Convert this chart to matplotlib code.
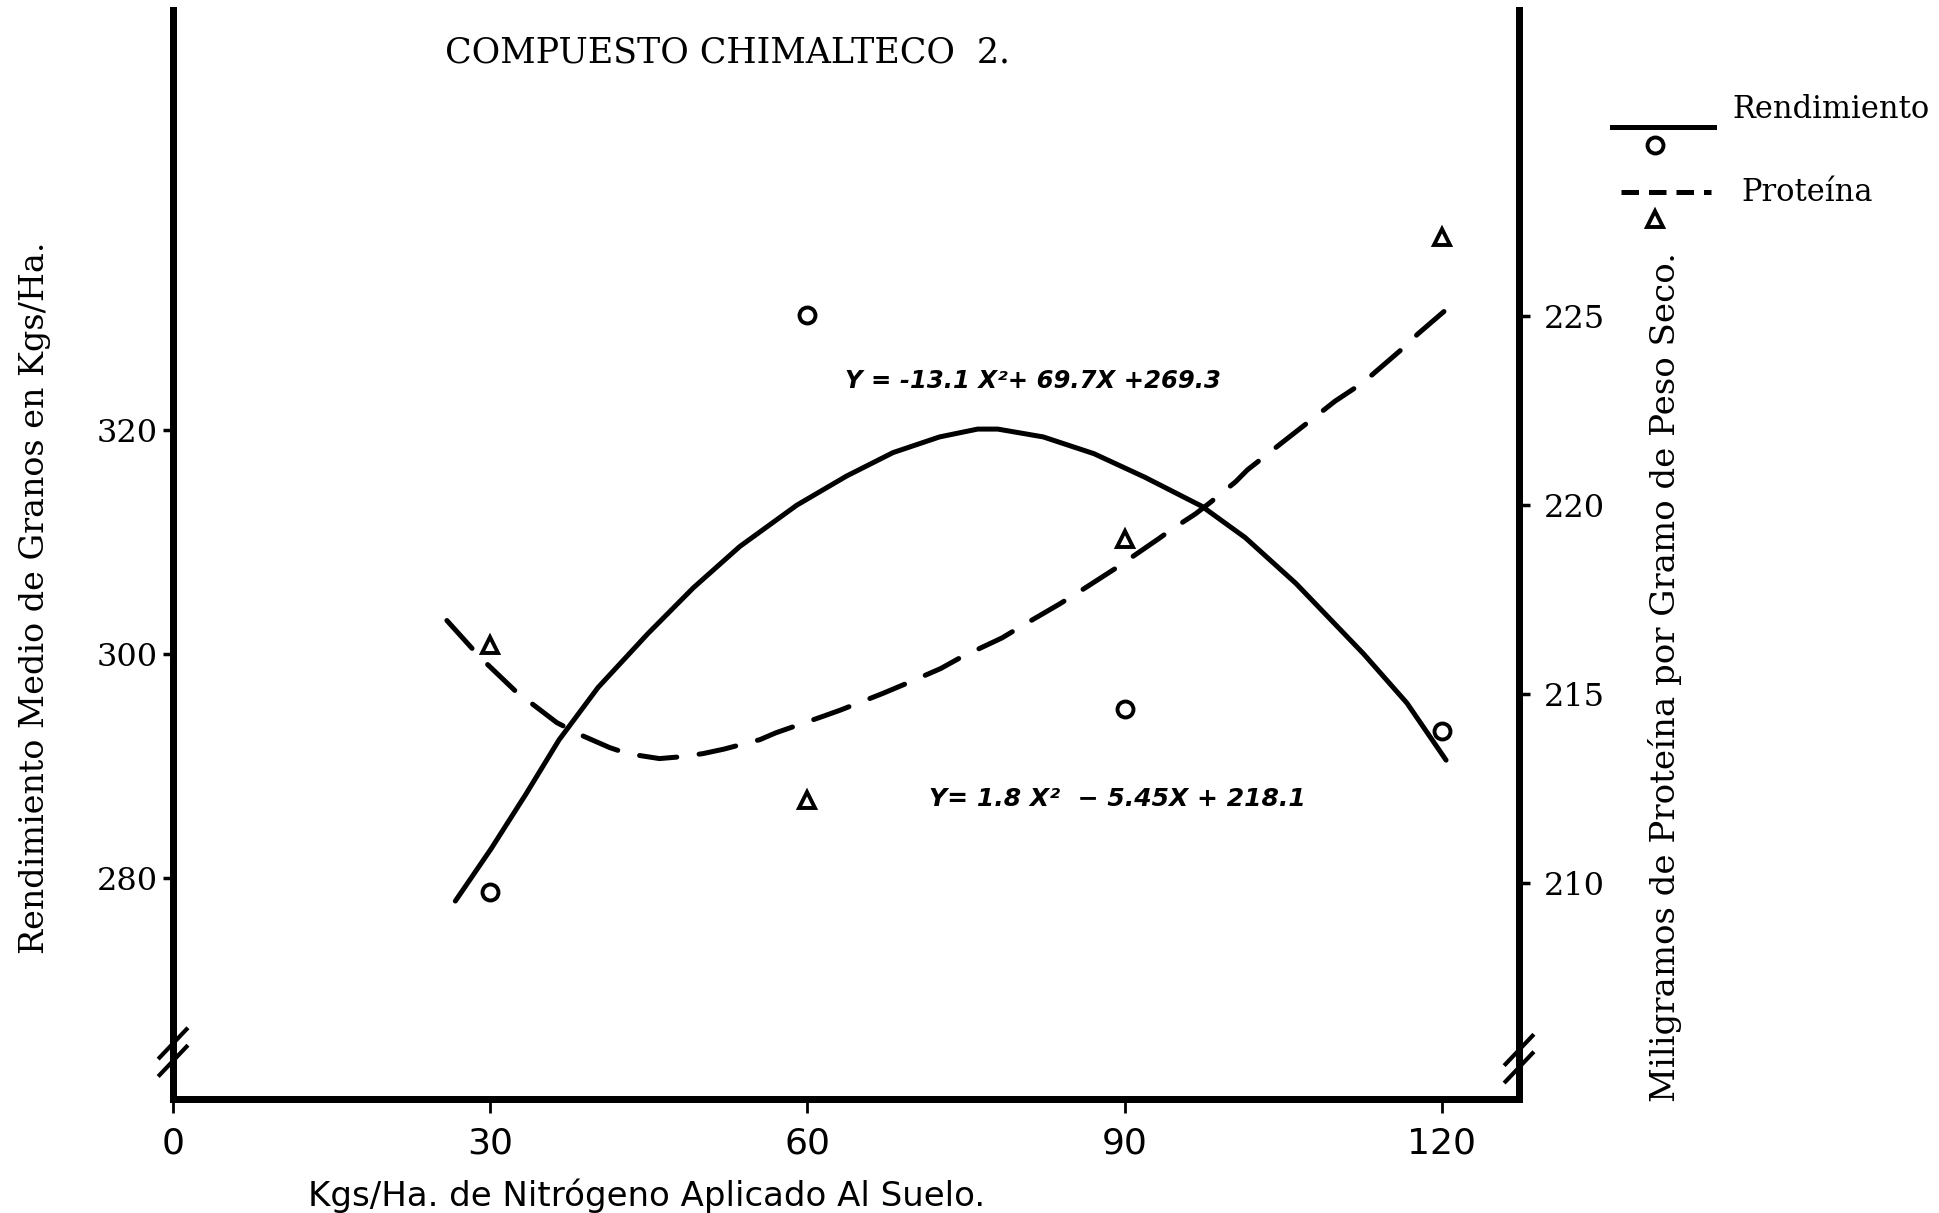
import matplotlib

matplotlib.use("Agg")

import matplotlib.pyplot as plt
from matplotlib.lines import Line2D

# nitrogen applied (kg/ha) and observed means
nitrogen = [30, 60, 90, 120]
rend_obs = [278.7, 330.3, 295.1, 293.1]
prot_obs = [216.3, 212.2, 219.1, 227.1]

# fitted curves
rend_fit_x = [26.7, 30.1, 33.4, 36.5, 40.2, 44.9, 49.2, 53.6, 59.0, 63.7, 68.1, 72.5,
              76.1, 78.0, 82.3, 87.1, 91.9, 97.3, 101.4, 106.2, 112.6, 116.7, 120.4]
rend_fit_y = [277.9, 282.6, 287.5, 292.3, 297.0, 301.8, 305.9, 309.6, 313.3, 315.9, 318.0, 319.4,
              320.1, 320.1, 319.4, 317.9, 315.8, 313.2, 310.4, 306.3, 300.0, 295.6, 290.5]
prot_fit_x = [25.9, 29.1, 32.4, 36.3, 38.6, 41.3, 43.0, 46.0, 47.7, 50.1, 52.1, 55.5, 57.0,
              61.5, 63.1, 67.1, 69.4, 72.6, 74.6, 78.4, 80.3, 83.8, 85.7, 89.2, 90.6,
              93.2, 94.4, 96.7, 98.0, 100.5, 101.6, 105.1, 108.4, 109.9, 112.6, 113.5,
              116.7, 117.7, 120.2]
prot_fit_y = [216.95, 215.96, 215.08, 214.25, 213.92, 213.59, 213.43, 213.30, 213.34, 213.43,
              213.55, 213.80, 213.98, 214.42, 214.58, 215.02, 215.29, 215.68, 215.99, 216.49,
              216.81, 217.38, 217.71, 218.34, 218.61, 219.11, 219.35, 219.77, 220.05, 220.62,
              220.93, 221.70, 222.42, 222.75, 223.25, 223.47, 224.24, 224.52, 225.12]

x_ticks = [0, 30, 60, 90, 120]
left_ticks = [280, 300, 320]
right_ticks = [210, 215, 220, 225]

title = "COMPUESTO CHIMALTECO  2."
eq_rend = "Y = -13.1 X²+ 69.7X +269.3"
eq_prot = "Y= 1.8 X²  − 5.45X + 218.1"

SERIF = ["DejaVu Serif"]
NARROW = ["Liberation Sans Narrow", "DejaVu Sans"]

fig = plt.figure(figsize=(19.4, 12.13), dpi=100)
ax = fig.add_axes([0.0892, 0.094, 0.6938, 0.898])
ax2 = ax.twinx()

ax.set_xlim(0, 127.3)
ax.set_ylim(260.2, 357.6)
ax2.set_ylim(204.3, 233.1)

ax.plot(rend_fit_x, rend_fit_y, color="black", linewidth=3.6, solid_capstyle="round",
        solid_joinstyle="round")
ax.plot(nitrogen, rend_obs, linestyle="none", marker="o", markersize=11.5,
        markerfacecolor="white", markeredgecolor="black", markeredgewidth=2.8)
ax2.plot(prot_fit_x, prot_fit_y, color="black", linewidth=3.6, dashes=(7.5, 4.5),
         dash_capstyle="round", dash_joinstyle="round")
ax2.plot(nitrogen, prot_obs, linestyle="none", marker="^", markersize=11,
         markerfacecolor="white", markeredgecolor="black", markeredgewidth=2.8)

for a in (ax, ax2):
    a.spines["top"].set_visible(False)
    for side in ("left", "right", "bottom"):
        a.spines[side].set_linewidth(5)
        a.spines[side].set_color("black")

ax.set_xticks(x_ticks)
ax.set_xticklabels([str(v) for v in x_ticks], fontfamily=NARROW, fontsize=26)
ax.tick_params(axis="x", direction="out", length=10, width=2, pad=10)
ax.set_yticks(left_ticks)
ax.set_yticklabels([str(v) for v in left_ticks], fontfamily=SERIF, fontsize=23)
ax.tick_params(axis="y", direction="out", length=7, width=2.5, pad=4)
ax2.set_yticks(right_ticks)
ax2.set_yticklabels([str(v) for v in right_ticks], fontfamily=SERIF, fontsize=23)
ax2.tick_params(axis="y", direction="out", length=8, width=2.5, pad=10)

# axis break marks
for xa, ya in ((0.0, 0.043), (1.0, 0.037)):
    for off in (-0.008, 0.008):
        ax.plot([xa - 0.010, xa + 0.010], [ya + off - 0.013, ya + off + 0.013],
                transform=ax.transAxes, color="black", linewidth=3, clip_on=False)

fig.text(0.2294, 0.957, title, fontfamily=SERIF, fontsize=25, ha="left", va="center")
fig.text(0.4356, 0.686, eq_rend, fontfamily=["DejaVu Sans"], fontsize=17.5,
         fontweight="bold", fontstyle="italic", ha="left", va="center")
fig.text(0.479, 0.341, eq_prot, fontfamily=["DejaVu Sans"], fontsize=18,
         fontweight="bold", fontstyle="italic", ha="left", va="center")
fig.text(0.159, 0.014, "Kgs/Ha. de Nitrógeno Aplicado Al Suelo.", fontfamily=NARROW,
         fontsize=24.5, ha="left", va="center")
fig.text(0.018, 0.507, "Rendimiento Medio de Granos en Kgs/Ha.", fontfamily=SERIF,
         fontsize=24, rotation=90, ha="center", va="center")
fig.text(0.858, 0.442, "Miligramos de Proteína por Gramo de Peso Seco.", fontfamily=SERIF,
         fontsize=24.5, rotation=90, ha="center", va="center")

# hand-drawn key to the right of the plot
fig.add_artist(Line2D([0.831, 0.8835], [0.8953, 0.8953], transform=fig.transFigure,
                      color="black", linewidth=3.6))
fig.add_artist(Line2D([0.853], [0.8805], transform=fig.transFigure, linestyle="none",
                      marker="o", markersize=11.5, markerfacecolor="white",
                      markeredgecolor="black", markeredgewidth=2.8))
fig.add_artist(Line2D([0.8356, 0.882], [0.8417, 0.8417], transform=fig.transFigure,
                      color="black", linewidth=3.6, dashes=(3.5, 2.0)))
fig.add_artist(Line2D([0.853], [0.8195], transform=fig.transFigure, linestyle="none",
                      marker="^", markersize=11, markerfacecolor="white",
                      markeredgecolor="black", markeredgewidth=2.8))
fig.text(0.893, 0.910, "Rendimiento", fontfamily=SERIF, fontsize=22, ha="left", va="center")
fig.text(0.8974, 0.8417, "Proteína", fontfamily=SERIF, fontsize=22, ha="left", va="center")

fig.savefig("out.png", dpi=100)
plt.close(fig)
